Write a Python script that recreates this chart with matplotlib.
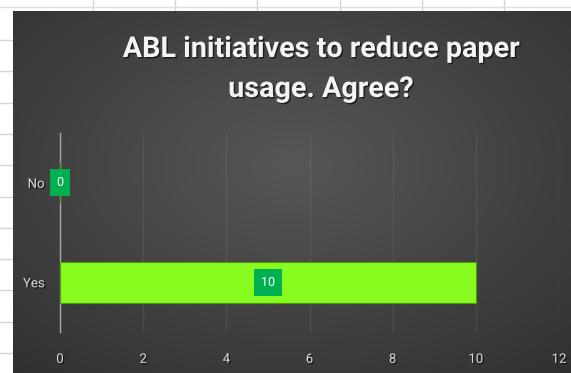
import numpy as np
import matplotlib.pyplot as plt
import matplotlib.patheffects as pe

# datos de la encuesta
categorias = ['Yes', 'No']
respuestas = [10, 0]
ticks_x = [0, 2, 4, 6, 8, 10, 12]
titulo = ['ABL initiatives to reduce paper', 'usage. Agree?']

plt.rcParams['font.family'] = ['Roboto', 'DejaVu Sans']

W, H = 571, 373
fig = plt.figure(figsize=(W / 100, H / 100), dpi=100)
fig.patch.set_facecolor('white')

# rejilla de la hoja de cálculo detrás del gráfico
hoja = fig.add_axes([0, 0, 1, 1])
hoja.set_xlim(0, W)
hoja.set_ylim(H, 0)
hoja.axis('off')
for x in [93, 175, 257, 340, 422, 504]:
    hoja.plot([x, x], [0, 11], color='#d6d6d6', lw=1)
hoja.plot([0, W], [7, 7], color='#e0e0e0', lw=1)
for y in np.arange(40, H, 31.3):
    hoja.plot([0, 13], [y, y], color='#d6d6d6', lw=1)

# fondo oscuro con degradado radial
fondo = fig.add_axes([13 / W, 0, 1 - 13 / W, 1 - 11 / H])
fondo.axis('off')
xx, yy = np.meshgrid(np.linspace(-1, 1, 300), np.linspace(-1, 1, 200))
r = np.sqrt((xx * 0.9) ** 2 + ((yy + 0.15) * 0.9) ** 2)
gris = np.clip(0.34 - 0.11 * r, 0.18, 0.34)
fondo.imshow(np.dstack([gris, gris, gris]), aspect='auto', extent=[0, 1, 0, 1])
fondo.set_xlim(0, 1)
fondo.set_ylim(0, 1)

sombra = [pe.withSimplePatchShadow(offset=(1, -1), shadow_rgbFace='black', alpha=0.6)]

# área de trazado
ax = fig.add_axes([60 / W, 1 - 332 / H, 499 / W, 199 / H])
ax.set_facecolor('none')
pos = np.arange(len(categorias))
ax.barh(pos, respuestas, height=0.41, color='#88fc1e', edgecolor='#4f9a10', lw=0.8, zorder=3)
ax.set_xlim(0, 12)
ax.set_ylim(-0.5, len(categorias) - 0.5)
ax.set_xticks(ticks_x)
ax.set_yticks(pos)
ax.set_yticklabels(categorias)
ax.grid(axis='x', color='white', alpha=0.07, lw=1, zorder=0)
for s in ['top', 'right', 'bottom']:
    ax.spines[s].set_visible(False)
ax.spines['left'].set_color('#a8a8a8')
ax.spines['left'].set_linewidth(1)
ax.tick_params(axis='both', length=0, colors='#d9d9d9', labelsize=9.5)
ax.tick_params(axis='y', pad=11)
ax.tick_params(axis='x', pad=15)
for t in ax.get_xticklabels() + ax.get_yticklabels():
    t.set_path_effects(sombra)

# etiquetas de valor en el centro de cada barra
for p, v in zip(pos, respuestas):
    ax.text(v / 2, p, str(v), ha='center', va='center', color='white', fontsize=9,
            zorder=4, bbox=dict(boxstyle='square,pad=0.55', fc='#00b050', ec='none'))

# título en dos líneas
for y, linea in zip([57, 97], titulo):
    fig.text(321 / W, 1 - y / H, linea, ha='center', va='baseline', color='#f4f4f4',
             fontsize=20.7, fontweight='bold', path_effects=sombra)

fig.savefig('out.png', dpi=100)
